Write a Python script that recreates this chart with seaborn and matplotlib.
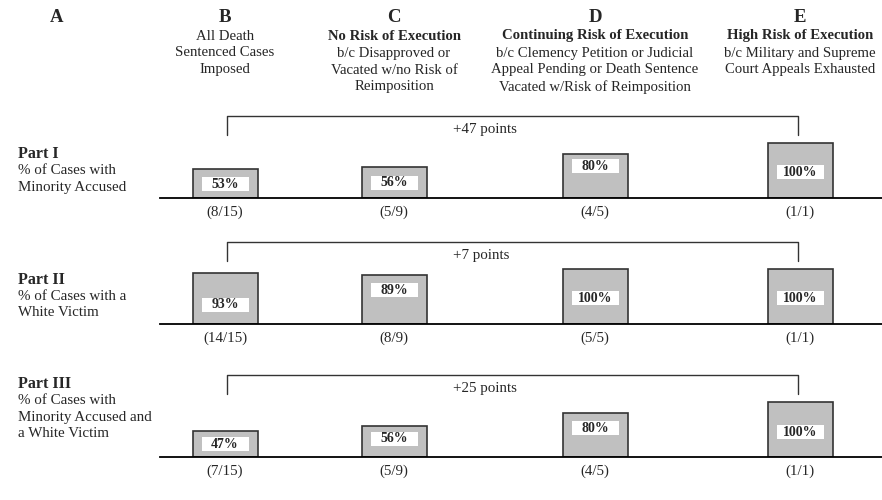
## Death sentence cases: minority accused / white victim by risk of execution

import matplotlib
matplotlib.use('Agg')
import matplotlib.pyplot as plt
from matplotlib.patches import Rectangle
import seaborn as sns
import pandas as pd

# 데이터
columns = ['B', 'C', 'D', 'E']
part_names = ['Part I', 'Part II', 'Part III']
part_desc = [['% of Cases with', 'Minority Accused'],
             ['% of Cases with a', 'White Victim'],
             ['% of Cases with', 'Minority Accused and', 'a White Victim']]
pct_values = [[53, 56, 80, 100],
              [93, 89, 100, 100],
              [47, 56, 80, 100]]
fractions = [['(8/15)', '(5/9)', '(4/5)', '(1/1)'],
             ['(14/15)', '(8/9)', '(5/5)', '(1/1)'],
             ['(7/15)', '(5/9)', '(4/5)', '(1/1)']]
gap_labels = ['+47 points', '+7 points', '+25 points']

header_bold = [[], ['No Risk of Execution'], ['Continuing Risk of Execution'], ['High Risk of Execution']]
header_text = [['All Death', 'Sentenced Cases', 'Imposed'],
               ['b/c Disapproved or', 'Vacated w/no Risk of', 'Reimposition'],
               ['b/c Clemency Petition or Judicial', 'Appeal Pending or Death Sentence',
                'Vacated w/Risk of Reimposition'],
               ['b/c Military and Supreme', 'Court Appeals Exhausted']]

# 레이아웃 (픽셀 단위)
W, H = 882, 500
col_x = [225, 394, 595, 800]
baselines = [198, 324, 457]
px_per_pct = 0.55
label_px = [[14, 15, 32, 26],
            [19, 34, 26, 26],
            [13, 18, 29, 25]]

sns.set_style('white')
plt.rcParams['font.family'] = ['Liberation Serif', 'DejaVu Serif']


def fx(x):
    return x / W


def fy(y):
    return 1 - y / H


fig = plt.figure(figsize=(W / 100, H / 100), dpi=100)

# 열 제목
fig.text(fx(57), fy(18), 'A', ha='center', va='center', fontsize=13.5, fontweight='bold')
for i, col in enumerate(columns):
    fig.text(fx(col_x[i]), fy(18), col, ha='center', va='center', fontsize=13.5, fontweight='bold')
    y = 36
    for line in header_bold[i]:
        fig.text(fx(col_x[i]), fy(y), line, ha='center', va='center', fontsize=10.6, fontweight='bold')
        y += 17
    for line in header_text[i]:
        fig.text(fx(col_x[i]), fy(y), line, ha='center', va='center', fontsize=10.6)
        y += 17

ymax = 155
for p in range(3):
    base = baselines[p]
    ax = fig.add_axes([fx(160), fy(base), 1 - fx(160), ymax * px_per_pct / H])
    df = pd.DataFrame({'x': col_x, 'value': pct_values[p]})
    sns.barplot(data=df, x='x', y='value', native_scale=True, width=65 / 169,
                color='#c0c0c0', edgecolor='#333333', linewidth=1.2,
                errorbar=None, ax=ax)
    for patch in ax.patches:
        patch.set_facecolor('#c0c0c0')
    ax.set_xlim(160, 882)
    ax.set_ylim(0, ymax)
    ax.set_xticks([])
    ax.set_yticks([])
    ax.set_xlabel('')
    ax.set_ylabel('')
    for s in ['top', 'left', 'right']:
        ax.spines[s].set_visible(False)
    ax.spines['bottom'].set_color('black')
    ax.spines['bottom'].set_linewidth(1.3)
    ax.patch.set_alpha(0)

    # 막대 안 값 라벨
    for i, v in enumerate(pct_values[p]):
        yc = label_px[p][i] / px_per_pct
        bh = 14 / px_per_pct
        ax.add_patch(Rectangle((col_x[i] - 23.5, yc - bh / 2), 47, bh,
                               facecolor='white', edgecolor='none', zorder=3))
        ax.text(col_x[i], yc, f'{v}%', ha='center', va='center', fontsize=10,
                fontweight='bold', zorder=4)
        ax.text(col_x[i], -14 / px_per_pct, fractions[p][i], ha='center', va='center',
                fontsize=10.8, clip_on=False)

    # 브래킷
    ax.plot([col_x[0] + 2, col_x[0] + 2, col_x[-1] - 2, col_x[-1] - 2],
            [115, 150, 150, 115], color='#333333', lw=1.0, clip_on=False)
    ax.text(453, 125, gap_labels[p], ha='left', va='center', fontsize=10.8)

    # 파트 라벨
    ty = base - 44 if p < 2 else base - 73
    fig.text(fx(18), fy(ty), part_names[p], ha='left', va='center', fontsize=11.5, fontweight='bold')
    for k, line in enumerate(part_desc[p]):
        fig.text(fx(18), fy(ty + 16.5 * (k + 1)), line, ha='left', va='center', fontsize=10.8)

fig.savefig('out.png', dpi=100)
